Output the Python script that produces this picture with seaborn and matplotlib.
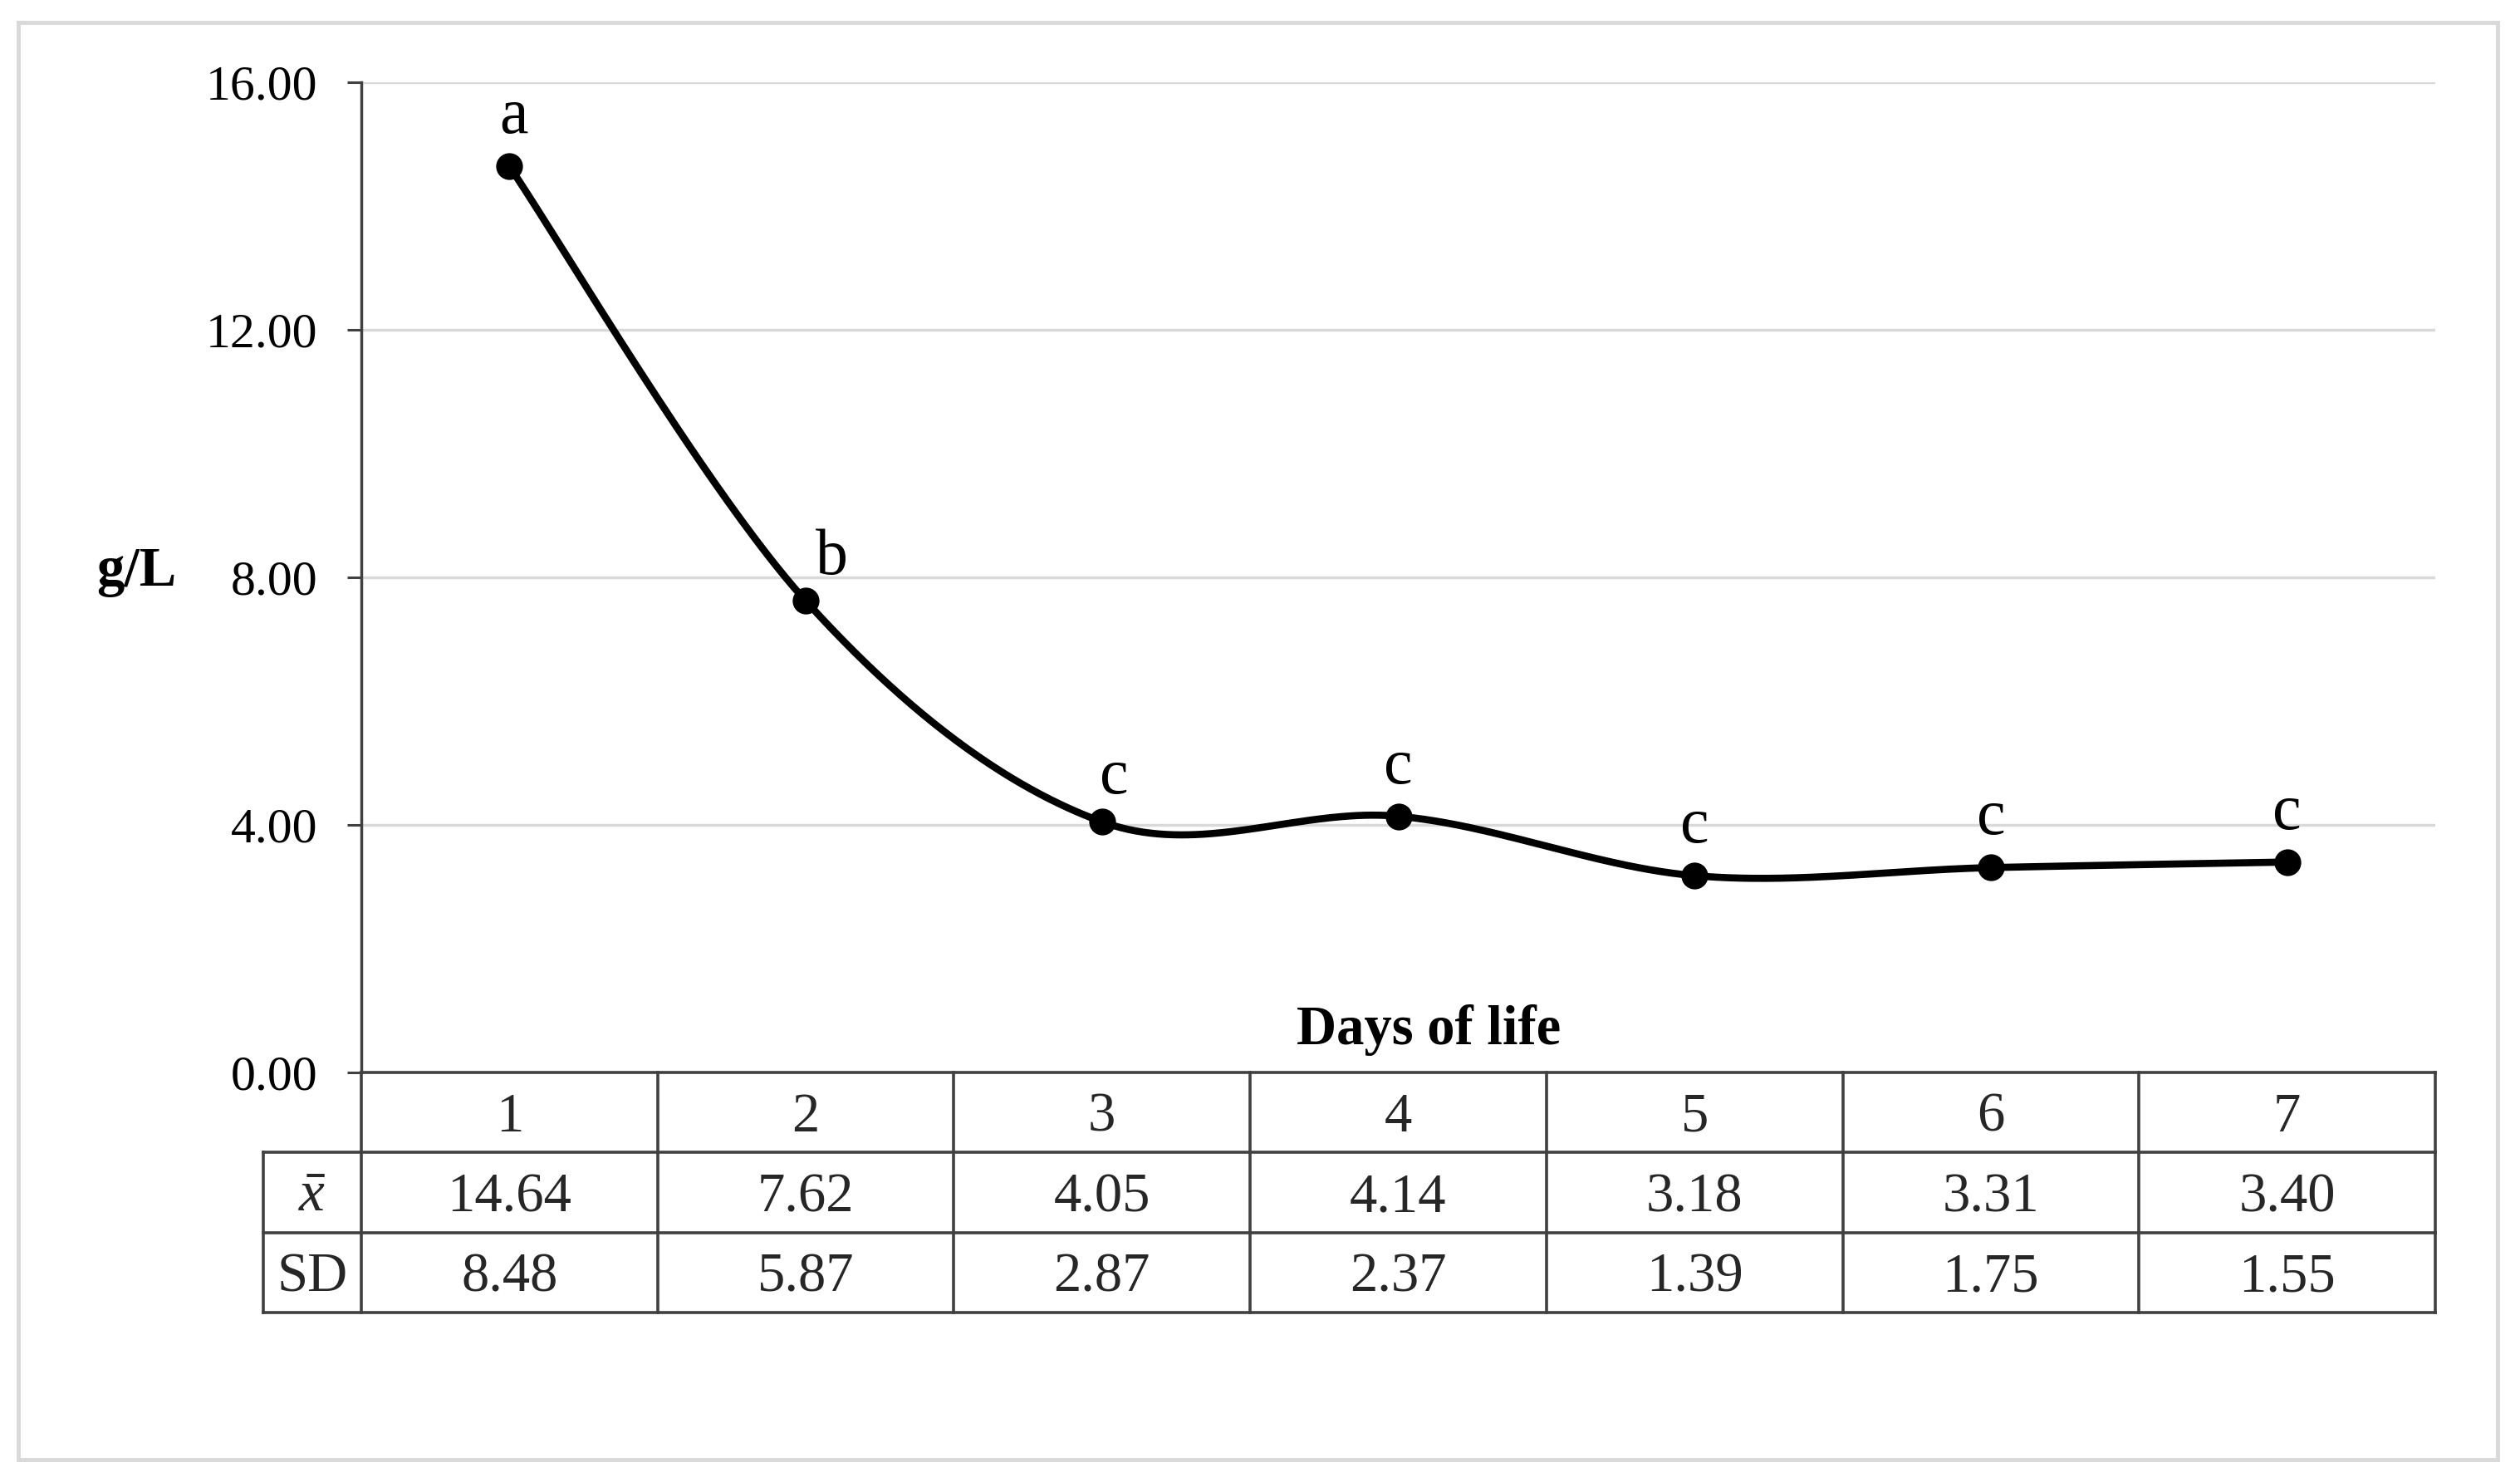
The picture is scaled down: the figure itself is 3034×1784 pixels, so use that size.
import numpy as np
import pandas as pd
import matplotlib
matplotlib.use("Agg")
import matplotlib.pyplot as plt
from matplotlib.patches import Rectangle
import seaborn as sns

# ---------------- data ----------------
days = [1, 2, 3, 4, 5, 6, 7]
means = [14.64, 7.62, 4.05, 4.14, 3.18, 3.31, 3.40]
sds = [8.48, 5.87, 2.87, 2.37, 1.39, 1.75, 1.55]
letters = ["a", "b", "c", "c", "c", "c", "c"]
yticks = [0, 4, 8, 12, 16]
row_labels = [r"$\bar{x}$", "SD"]
xlabel = "Days of life"
ylabel = "g/L"

# ---------------- style ----------------
sns.set_theme(style="white")
plt.rcParams["font.family"] = ["Liberation Serif", "DejaVu Serif"]
plt.rcParams["mathtext.fontset"] = "custom"
plt.rcParams["mathtext.it"] = "Liberation Serif:italic"
plt.rcParams["mathtext.rm"] = "Liberation Serif"

W, H = 3034, 1784
fig = plt.figure(figsize=(W / 100, H / 100), dpi=100)
fig.patch.set_facecolor("white")


def fx(px):
    return px / W


def fy(py):
    return 1 - py / H


AX_L, AX_R, AX_T, AX_B = 435, 2932, 99, 1291
TB_L, TB_B = 317, 1580
LINE_C = "#404040"

ax = fig.add_axes([fx(AX_L), fy(AX_B), fx(AX_R) - fx(AX_L), fy(AX_T) - fy(AX_B)])
ax.set_facecolor("none")

# category positions (centred in columns like Excel)
xpos = np.arange(len(days)) + 0.5


def smooth_curve(x, y, n=80):
    pts = np.column_stack([x, y]).astype(float)
    out = []
    for i in range(len(pts) - 1):
        p0 = pts[i - 1] if i > 0 else pts[i]
        p1 = pts[i]
        p2 = pts[i + 1]
        p3 = pts[i + 2] if i + 2 < len(pts) else pts[i + 1]
        c1 = p1 + (p2 - p0) / 6.0
        c2 = p2 - (p3 - p1) / 6.0
        t = np.linspace(0, 1, n)[:, None]
        seg = (1 - t) ** 3 * p1 + 3 * (1 - t) ** 2 * t * c1 + 3 * (1 - t) * t ** 2 * c2 + t ** 3 * p2
        out.append(seg if i == 0 else seg[1:])
    return np.vstack(out)


curve = smooth_curve(xpos, means)
curve_df = pd.DataFrame({"x": curve[:, 0], "y": curve[:, 1], "order": np.arange(len(curve))})
sns.lineplot(data=curve_df, x="x", y="y", sort=False, estimator=None, color="black",
             linewidth=6.2, ax=ax, zorder=3)
pts_df = pd.DataFrame({"x": xpos, "y": means})
sns.scatterplot(data=pts_df, x="x", y="y", color="black", s=540, linewidth=0,
                ax=ax, zorder=4)

ax.set_xlim(0, 7)
ax.set_ylim(0, 16)
ax.set_xticks([])
ax.set_yticks(yticks)
ax.set_yticklabels([f"{v:.2f}" for v in yticks], fontsize=43, color="black")
ax.tick_params(axis="y", which="major", left=True, length=12, width=2.2,
               color=LINE_C, pad=26)
ax.set_xlabel("")
ax.set_ylabel("")
for s in ["top", "right", "bottom"]:
    ax.spines[s].set_visible(False)
ax.spines["left"].set_color(LINE_C)
ax.spines["left"].set_linewidth(2.5)
ax.yaxis.grid(True, color="#d9d9d9", linewidth=2.5)
ax.set_axisbelow(True)
# remove grid at 0 (table top edge there)
ax.get_ygridlines()[0].set_visible(False)

# letter annotations
offsets = [(5, 40), (31, 32), (15, 34), (0, 40), (0, 40), (0, 40), (0, 40)]
for xp, m, lab, off in zip(xpos, means, letters, offsets):
    ax.annotate(lab, (xp, m), xytext=off, textcoords="offset pixels",
                ha="center", va="baseline", fontsize=56, color="black", zorder=5)

# axis titles
fig.text(fx(1720), fy(1257), xlabel, ha="center", va="baseline",
         fontsize=48, fontweight="bold", color="black")
fig.text(fx(164), fy(705), ylabel, ha="center", va="baseline",
         fontsize=48, fontweight="bold", color="black")

# ---------------- data table ----------------
col_w = (AX_R - AX_L) / 7.0
lab_w = (AX_L - TB_L) / col_w
tax = fig.add_axes([fx(TB_L), fy(TB_B), fx(AX_R) - fx(TB_L), fy(AX_B) - fy(TB_B)])
tax.set_xlim(-lab_w, 7)
tax.set_ylim(3, 0)
tax.axis("off")

lk = dict(color=LINE_C, linewidth=2.6, clip_on=False, solid_capstyle="projecting")
tax.plot([0, 7], [0, 0], **lk)
for r in [1, 2, 3]:
    tax.plot([-lab_w, 7], [r, r], **lk)
for c in range(8):
    tax.plot([c, c], [0, 3], **lk)
tax.plot([-lab_w, -lab_w], [1, 3], **lk)

base_off = 0.234
for i, d in enumerate(days):
    tax.text(i + 0.5, 0.5 + base_off, str(d), ha="center", va="baseline", fontsize=48)
    tax.text(i + 0.5, 1.5 + base_off, f"{means[i]:.2f}", ha="center", va="baseline", fontsize=48)
    tax.text(i + 0.5, 2.5 + base_off, f"{sds[i]:.2f}", ha="center", va="baseline", fontsize=48)
tax.text(-lab_w / 2, 1.5 + base_off, row_labels[0], ha="center", va="baseline", fontsize=50)
tax.text(-lab_w / 2, 2.5 + base_off, row_labels[1], ha="center", va="baseline", fontsize=48)

# outer frame
fig.patches.append(Rectangle((fx(22), fy(1757)), fx(3007) - fx(22), fy(27) - fy(1757),
                             transform=fig.transFigure, fill=False,
                             edgecolor="#d9d9d9", linewidth=3.6))

fig.savefig("out.png", dpi=100, facecolor="white")
